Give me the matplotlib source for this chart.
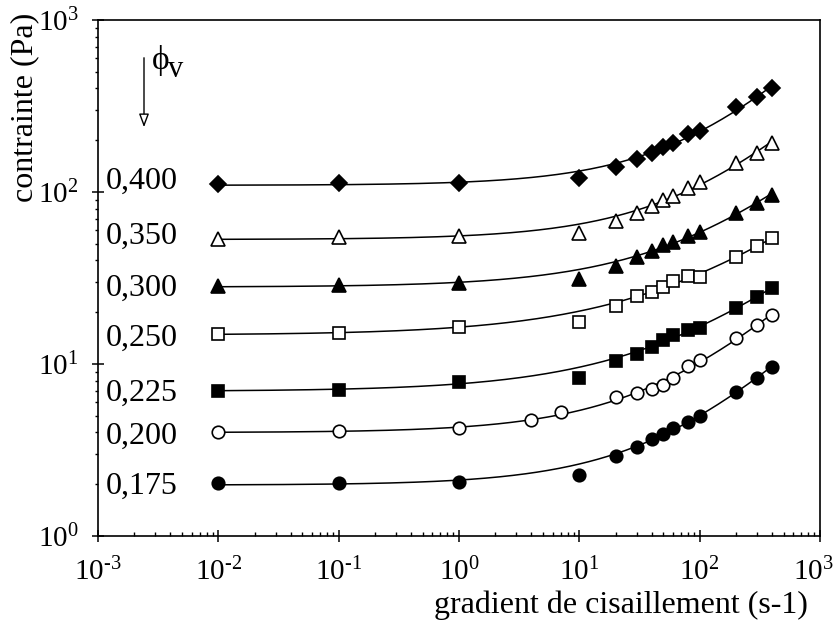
import numpy as np
import matplotlib
matplotlib.use('Agg')
import matplotlib.pyplot as plt
import matplotlib.transforms as mtransforms
from matplotlib.ticker import LogLocator, NullFormatter, FixedLocator

plt.rcParams['font.family'] = ['Liberation Serif', 'DejaVu Serif']
plt.rcParams['mathtext.fontset'] = 'custom'
plt.rcParams['mathtext.rm'] = 'Liberation Serif'
plt.rcParams['mathtext.it'] = 'Liberation Serif:italic'

# ---------------- data ----------------
shear = [0.01, 0.1, 1, 10, 20, 30, 40, 50, 60, 80, 100, 200, 300, 400]
shear_0200 = [0.01, 0.1, 1, 4, 7, 20, 30, 40, 50, 60, 80, 100, 200, 300, 400]

stress_0400 = [110.9, 112.3, 113.3, 120.1, 139.2, 156.2, 167.9, 181.9, 193.4, 216.5, 226.3, 310.8, 355.3, 400.8]
stress_0350 = [53.1, 55.0, 55.5, 57.5, 68.1, 76.0, 83.1, 89.8, 95.2, 105.9, 113.9, 146.9, 167.9, 193.4]
stress_0300 = [28.4, 28.9, 29.5, 31.1, 37.3, 42.1, 45.6, 49.2, 51.0, 55.5, 58.3, 75.2, 86.7, 96.1]
stress_0250 = [14.9, 15.2, 16.5, 17.6, 21.7, 24.9, 26.3, 28.1, 30.4, 32.5, 32.2, 41.7, 48.5, 53.8]
stress_0225 = [7.0, 7.06, 7.89, 8.32, 10.4, 11.5, 12.6, 13.8, 14.7, 15.8, 16.3, 21.1, 24.6, 27.5]
stress_0200 = [4.01, 4.06, 4.23, 4.73, 5.26, 6.40, 6.81, 7.16, 7.55, 8.32, 9.77, 10.5, 14.1, 16.9, 19.3]
stress_0175 = [2.02, 2.04, 2.05, 2.26, 2.92, 3.30, 3.66, 3.92, 4.23, 4.62, 5.00, 6.90, 8.26, 9.64]

phi_labels = ['0,400', '0,350', '0,300', '0,250', '0,225', '0,200', '0,175']
label_y = [120.6, 57.8, 28.8, 14.7, 7.06, 3.97, 2.03]

series = [
    (shear, stress_0400, 'D', 'black'),
    (shear, stress_0350, '^', 'white'),
    (shear, stress_0300, '^', 'black'),
    (shear, stress_0250, 's', 'white'),
    (shear, stress_0225, 's', 'black'),
    (shear_0200, stress_0200, 'o', 'white'),
    (shear, stress_0175, 'o', 'black'),
]
marker_sizes = {'D': 8.5, '^': 9.5, 's': 9, 'o': 9}

xticks = [1e-3, 1e-2, 1e-1, 1e0, 1e1, 1e2, 1e3]
xticklabels = [r'$\mathregular{10^{\text{-}3}}$', r'$\mathregular{10^{\text{-}2}}$',
               r'$\mathregular{10^{\text{-}1}}$', r'$\mathregular{10^{0}}$',
               r'$\mathregular{10^{1}}$', r'$\mathregular{10^{2}}$', r'$\mathregular{10^{3}}$']
yticks = [1e0, 1e1, 1e2, 1e3]
yticklabels = [r'$\mathregular{10^{0}}$', r'$\mathregular{10^{1}}$', r'$\mathregular{10^{2}}$',
               r'$\mathregular{10^{3}}$']


def hb_fit(x, y):
    """Herschel-Bulkley fit tau = tau0 + K*gamma^n (x=10 points excluded)."""
    x = np.asarray(x, float)
    y = np.asarray(y, float)
    m = x != 10
    x, y = x[m], y[m]
    best = None
    for n in np.linspace(0.2, 1.5, 1301):
        A = np.column_stack([np.ones_like(x), x ** n]) / y[:, None]
        b = np.ones_like(y)
        coef, *_ = np.linalg.lstsq(A, b, rcond=None)
        r = np.sum((A @ coef - b) ** 2)
        if best is None or r < best[0]:
            best = (r, coef[0], coef[1], n)
    return best[1:]


fig = plt.figure(figsize=(8.35, 6.27), dpi=100)
ax = fig.add_axes([98 / 835, 1 - 536 / 627, 722 / 835, 516 / 627])
ax.set_xscale('log')
ax.set_yscale('log')
ax.set_xlim(1e-3, 1e3)
ax.set_ylim(1e0, 1e3)

for x, y, mk, fc in series:
    t0, K, n = hb_fit(x, y)
    xs = np.logspace(np.log10(x[0]), np.log10(x[-1]), 300)
    ax.plot(xs, t0 + K * xs ** n, color='black', lw=1.1, zorder=2)
    ax.plot(x, y, linestyle='none', marker=mk, markersize=marker_sizes[mk],
            markerfacecolor=fc, markeredgecolor='black', markeredgewidth=1.2, zorder=3)

for lab, yv in zip(phi_labels, label_y):
    ax.text(1.17e-3, yv, lab, fontsize=23, ha='left', va='center_baseline')

ax.xaxis.set_major_locator(FixedLocator(xticks))
ax.set_xticklabels(xticklabels)
ax.yaxis.set_major_locator(FixedLocator(yticks))
ax.set_yticklabels(yticklabels)
ax.xaxis.set_minor_locator(LogLocator(base=10, subs=np.arange(2, 10), numticks=20))
ax.yaxis.set_minor_locator(LogLocator(base=10, subs=np.arange(2, 10), numticks=20))
ax.xaxis.set_minor_formatter(NullFormatter())
ax.yaxis.set_minor_formatter(NullFormatter())

ax.tick_params(axis='x', which='major', direction='inout', length=8, width=1.1,
               labelsize=21, pad=12)
ax.tick_params(axis='x', which='minor', direction='in', length=3, width=1)
ax.tick_params(axis='y', which='major', direction='inout', length=8, width=1.1,
               labelsize=21, pad=10)
ax.tick_params(axis='y', which='minor', direction='out', length=2.5, width=1)
for s in ax.spines.values():
    s.set_linewidth(1.2)

# last x tick label sits slightly left of its tick in the reference
lbl = ax.get_xticklabels()[-1]
lbl.set_transform(lbl.get_transform() +
                  mtransforms.ScaledTranslation(-7 / 100, 0, fig.dpi_scale_trans))

fig.text(808 / 835, 1 - 605 / 627, 'gradient de cisaillement (s-1)', fontsize=23,
         ha='right', va='center')
fig.text(25 / 835, 1 - 107 / 627, 'contrainte (Pa)', fontsize=23, rotation=90,
         ha='center', va='center')

# phi_v arrow annotation
ax.annotate('', xy=(144, 627 - 130), xycoords='figure pixels',
            xytext=(144, 627 - 55), textcoords='figure pixels',
            arrowprops=dict(arrowstyle='-|>,head_length=0.8,head_width=0.3',
                            fc='white', ec='black', lw=1.0))
fig.text(152 / 835, 1 - 69 / 627, 'ϕ', fontsize=24, ha='left', va='baseline')
fig.text(168 / 835, 1 - 77 / 627, 'v', fontsize=22, ha='left', va='baseline')

fig.savefig('out.png', dpi=100)
